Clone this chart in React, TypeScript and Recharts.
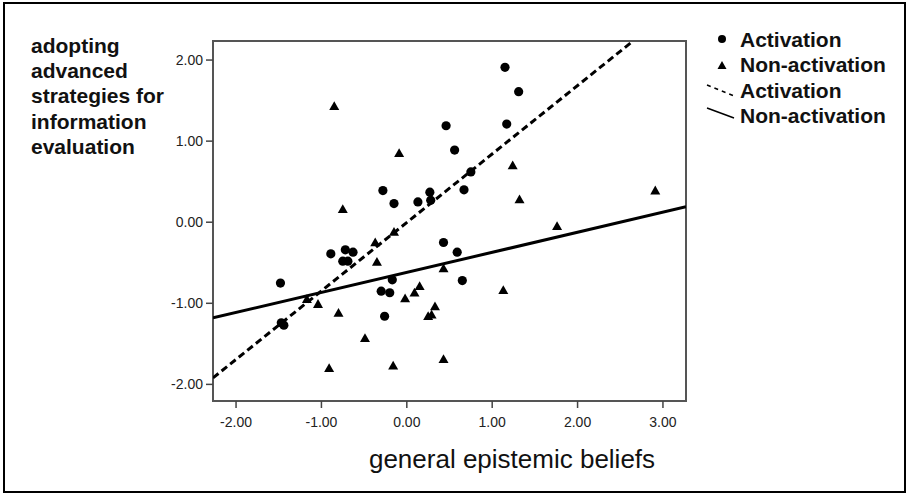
import React from 'react';
import { ScatterChart, Scatter, XAxis, YAxis, ReferenceArea } from 'recharts';

const activationX = [1.15, 1.31, 0.46, 1.17, 0.56, 0.75, -0.28, 0.67, 0.27, 0.28, 0.13, -0.15, -0.89, -0.72, -0.63, -0.75, -0.69, 0.43, 0.59, -1.48, -1.47, -1.44, -0.17, -0.30, -0.20, 0.65, -0.26];
const activationY = [1.91, 1.61, 1.19, 1.21, 0.89, 0.62, 0.39, 0.40, 0.37, 0.27, 0.25, 0.23, -0.39, -0.34, -0.37, -0.48, -0.48, -0.25, -0.37, -0.75, -1.24, -1.27, -0.71, -0.85, -0.87, -0.72, -1.16];

const nonActX = [-0.85, -0.09, 1.24, 2.91, 1.32, -0.75, 1.76, -0.15, -0.37, -0.35, 0.43, 1.13, 0.15, 0.09, -0.02, -1.17, -1.04, -0.80, 0.33, 0.25, 0.29, -0.49, 0.43, -0.16, -0.91];
const nonActY = [1.43, 0.85, 0.70, 0.39, 0.28, 0.16, -0.05, -0.12, -0.25, -0.49, -0.57, -0.84, -0.79, -0.87, -0.94, -0.95, -1.01, -1.12, -1.04, -1.16, -1.14, -1.43, -1.69, -1.77, -1.80];

const fitActX = [-2.27, 2.65];
const fitActY = [-1.92, 2.235];
const fitNonX = [-2.27, 3.27];
const fitNonY = [-1.18, 0.19];

const xTicks = [-2, -1, 0, 1, 2, 3];
const yTicks = [-2, -1, 0, 1, 2];
const xDomain = [-2.27, 3.27];
const yDomain = [-2.205, 2.235];

const yLabelLines = ['adopting', 'advanced', 'strategies for', 'information', 'evaluation'];
const xLabel = 'general epistemic beliefs';
const legendLabels = ['Activation', 'Non-activation', 'Activation', 'Non-activation'];

const zip = (xs: number[], ys: number[]) => xs.map((x, i) => ({ x, y: ys[i] }));

const W = 909;
const H = 495;
const FONT = '"Liberation Sans", Arial, sans-serif';

const Dot = (p: any) => <circle cx={p.cx} cy={p.cy} r={4.6} fill="#000" />;
const Tri = (p: any) => (
  <polygon
    points={`${p.cx},${p.cy - 5} ${p.cx + 5},${p.cy + 3.8} ${p.cx - 5},${p.cy + 3.8}`}
    fill="#000"
  />
);
const Nothing = () => <g />;

export default function App() {
  const fmt = (v: number) => v.toFixed(2);
  return (
    <div style={{ position: 'absolute', left: 0, top: 0, width: W, height: H, background: '#fff' }}>
      <ScatterChart
        width={W}
        height={H}
        margin={{ top: 41, right: 223, left: 153, bottom: 64 }}
      >
        <XAxis
          type="number"
          dataKey="x"
          domain={xDomain}
          ticks={xTicks}
          allowDataOverflow
          tickFormatter={fmt}
          height={30}
          axisLine={false}
          tickLine={{ stroke: '#444', strokeWidth: 1.5 }}
          tickSize={7}
          tickMargin={9}
          tick={{ fill: '#222', fontSize: 14, fontFamily: FONT }}
        />
        <YAxis
          type="number"
          dataKey="y"
          domain={yDomain}
          ticks={yTicks}
          allowDataOverflow
          tickFormatter={fmt}
          width={60}
          axisLine={false}
          tickLine={{ stroke: '#444', strokeWidth: 1.5 }}
          tickSize={7}
          tickMargin={3}
          tick={{ fill: '#222', fontSize: 14, fontFamily: FONT }}
        />
        <ReferenceArea
          x1={xDomain[0]}
          x2={xDomain[1]}
          y1={yDomain[0]}
          y2={yDomain[1]}
          fill="none"
          stroke="#555"
          strokeWidth={2}
          ifOverflow="visible"
        />
        <Scatter
          name="fitAct"
          data={zip(fitActX, fitActY)}
          line={{ stroke: '#000', strokeWidth: 3, strokeDasharray: '7 4' }}
          shape={<Nothing />}
          isAnimationActive={false}
        />
        <Scatter
          name="fitNon"
          data={zip(fitNonX, fitNonY)}
          line={{ stroke: '#000', strokeWidth: 3 }}
          shape={<Nothing />}
          isAnimationActive={false}
        />
        <Scatter name="Activation" data={zip(activationX, activationY)} shape={<Dot />} isAnimationActive={false} />
        <Scatter name="Non-activation" data={zip(nonActX, nonActY)} shape={<Tri />} isAnimationActive={false} />
      </ScatterChart>
      <svg
        width={W}
        height={H}
        style={{ position: 'absolute', left: 0, top: 0, pointerEvents: 'none' }}
      >
        <rect x={4} y={3} width={901} height={489} fill="none" stroke="#000" strokeWidth={2} />
        {yLabelLines.map((t, i) => (
          <text key={i} x={31} y={53 + i * 25.2} fontSize={21} fontWeight="bold" fontFamily={FONT} fill="#111">
            {t}
          </text>
        ))}
        <text x={512} y={468} textAnchor="middle" fontSize={26} fontFamily={FONT} fill="#111">
          {xLabel}
        </text>
        <circle cx={722} cy={39} r={4} fill="#000" />
        <polygon points="722,61 726.5,69 717.5,69" fill="#000" />
        <line x1={707} y1={85} x2={734} y2={96} stroke="#000" strokeWidth={1.5} strokeDasharray="4 4" />
        <line x1={707} y1={108} x2={734} y2={118} stroke="#000" strokeWidth={1.5} />
        {legendLabels.map((t, i) => (
          <text key={i} x={740} y={47 + i * 25.3} fontSize={21} fontWeight="bold" fontFamily={FONT} fill="#111">
            {t}
          </text>
        ))}
      </svg>
    </div>
  );
}
